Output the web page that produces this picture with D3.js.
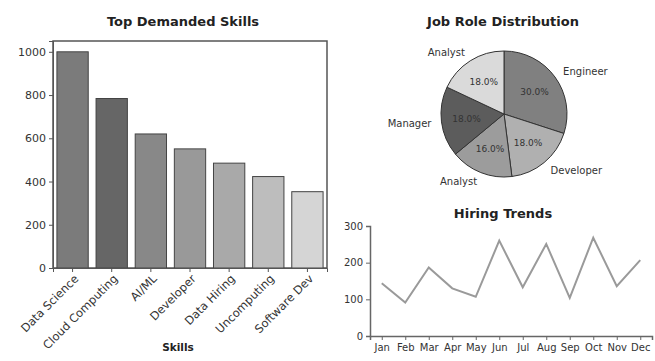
<!DOCTYPE html>
<html>
<head>
<meta charset="utf-8">
<script src="https://cdn.jsdelivr.net/npm/d3@7"></script>
<style>
  html, body { margin: 0; padding: 0; background: #fff; }
  svg { display: block; font-family: "DejaVu Sans", sans-serif; }
</style>
</head>
<body>
<svg id="chart" width="655" height="361"></svg>
<script>
// ---- Data ----
const skills = ["Data Science", "Cloud Computing", "AI/ML", "Developer", "Data Hiring", "Uncomputing", "Software Dev"];
const skillDemand = [1000, 784, 620, 551, 485, 423, 353];
const skillColors = ["#7b7b7b", "#666666", "#888888", "#999999", "#a9a9a9", "#bdbdbd", "#d5d5d5"];
const skillTicks = [0, 200, 400, 600, 800, 1000];

const roles = ["Engineer", "Developer", "Analyst", "Manager", "Analyst"];
const roleShare = [30, 18, 16, 18, 18];
const roleColors = ["#808080", "#b0b0b0", "#9c9c9c", "#5c5c5c", "#dadada"];

const months = ["Jan", "Feb", "Mar", "Apr", "May", "Jun", "Jul", "Aug", "Sep", "Oct", "Nov", "Dec"];
const hires = [144, 91, 187, 130, 107, 260, 133, 251, 104, 268, 136, 207];
const hireTicks = [0, 100, 200, 300];

const FONT = "DejaVu Sans, sans-serif";
const svg = d3.select("#chart");

// ---- Bar chart ----
const bx = d3.scaleBand().domain(skills).range([53, 327]).paddingInner(0.2).paddingOuter(0.1);
const by = d3.scaleLinear().domain([0, 1050]).range([268, 41]);

svg.append("text").attr("x", 183).attr("y", 26).attr("text-anchor", "middle")
  .attr("font-size", 13).attr("font-weight", "bold").attr("fill", "#222").text("Top Demanded Skills");

svg.append("rect").attr("x", 53).attr("y", 41).attr("width", 274).attr("height", 227)
  .attr("fill", "none").attr("stroke", "#555").attr("stroke-width", 1.5);

svg.append("g").selectAll("rect").data(skills).join("rect")
  .attr("x", d => bx(d)).attr("width", bx.bandwidth())
  .attr("y", (d, i) => by(skillDemand[i])).attr("height", (d, i) => by(0) - by(skillDemand[i]))
  .attr("fill", (d, i) => skillColors[i]).attr("stroke", "#444").attr("stroke-width", 1);

const byAxis = svg.append("g").attr("transform", "translate(53,0)")
  .call(d3.axisLeft(by).tickValues(skillTicks).tickFormat(d3.format("d")).tickSize(4).tickPadding(3));
byAxis.select(".domain").attr("stroke", "#555");
byAxis.selectAll(".tick line").attr("stroke", "#555");
byAxis.selectAll("text").attr("font-size", 11).attr("fill", "#333").attr("font-family", FONT);

const bxAxis = svg.append("g").attr("transform", "translate(0,268)")
  .call(d3.axisBottom(bx).tickSize(4).tickPadding(3));
bxAxis.select(".domain").attr("stroke", "#555");
bxAxis.selectAll(".tick line").attr("stroke", "#555");
bxAxis.selectAll("text").attr("font-size", 11.5).attr("fill", "#333")
  .attr("font-family", FONT)
  .attr("text-anchor", "end").attr("dx", "-0.3em").attr("dy", "0.5em")
  .attr("transform", "rotate(-45)");

svg.append("text").attr("x", 178).attr("y", 351).attr("text-anchor", "middle")
  .attr("font-size", 10.5).attr("font-weight", "bold").attr("fill", "#222").text("Skills");

// ---- Pie chart ----
const cx = 504, cy = 114, r = 63;
svg.append("text").attr("x", 503).attr("y", 26).attr("text-anchor", "middle")
  .attr("font-size", 13).attr("font-weight", "bold").attr("fill", "#222").text("Job Role Distribution");

const pie = d3.pie().sort(null).value(d => d)(roleShare);
const arc = d3.arc().innerRadius(0).outerRadius(r);
const pg = svg.append("g").attr("transform", `translate(${cx},${cy})`);
pg.selectAll("path").data(pie).join("path")
  .attr("d", arc).attr("fill", (d, i) => roleColors[i]).attr("stroke", "#333").attr("stroke-width", 1);

const inner = d3.arc().innerRadius(r * 0.6).outerRadius(r * 0.6);
pg.selectAll("text.pct").data(pie).join("text").attr("class", "pct")
  .attr("transform", d => `translate(${inner.centroid(d)})`)
  .attr("text-anchor", "middle").attr("dy", "0.35em")
  .attr("font-size", 9).attr("fill", "#333")
  .text(d => d.value.toFixed(1) + "%");

const outer = d3.arc().innerRadius(r * 1.16).outerRadius(r * 1.16);
pg.selectAll("text.lbl").data(pie).join("text").attr("class", "lbl")
  .attr("transform", d => `translate(${outer.centroid(d)})`)
  .attr("text-anchor", d => ((d.startAngle + d.endAngle) / 2 < Math.PI ? "start" : "end"))
  .attr("dy", "0.35em")
  .attr("font-size", 10).attr("fill", "#333")
  .text((d, i) => roles[i]);

// ---- Line chart ----
svg.append("text").attr("x", 503).attr("y", 218).attr("text-anchor", "middle")
  .attr("font-size", 13).attr("font-weight", "bold").attr("fill", "#222").text("Hiring Trends");

const lx = d3.scalePoint().domain(months).range([370, 652]).padding(0.5);
const ly = d3.scaleLinear().domain([0, 300]).range([336, 226]);

const lyAxis = svg.append("g").attr("transform", "translate(370,0)")
  .call(d3.axisLeft(ly).tickValues(hireTicks).tickSize(4).tickPadding(3));
lyAxis.select(".domain").attr("stroke", "#666").attr("stroke-width", 1.5);
lyAxis.selectAll(".tick line").attr("stroke", "#666");
lyAxis.selectAll("text").attr("font-size", 10).attr("fill", "#333").attr("font-family", FONT);

const lxAxis = svg.append("g").attr("transform", "translate(0,336)")
  .call(d3.axisBottom(lx).tickSize(4).tickPadding(4));
lxAxis.select(".domain").attr("stroke", "#666").attr("stroke-width", 1.5);
lxAxis.selectAll(".tick line").attr("stroke", "#666");
lxAxis.selectAll("text").attr("font-size", 10).attr("fill", "#333").attr("font-family", FONT);

const line = d3.line().x((d, i) => lx(months[i])).y(d => ly(d));
svg.append("path").datum(hires).attr("d", line)
  .attr("fill", "none").attr("stroke", "#9a9a9a").attr("stroke-width", 2);
</script>
</body>
</html>
